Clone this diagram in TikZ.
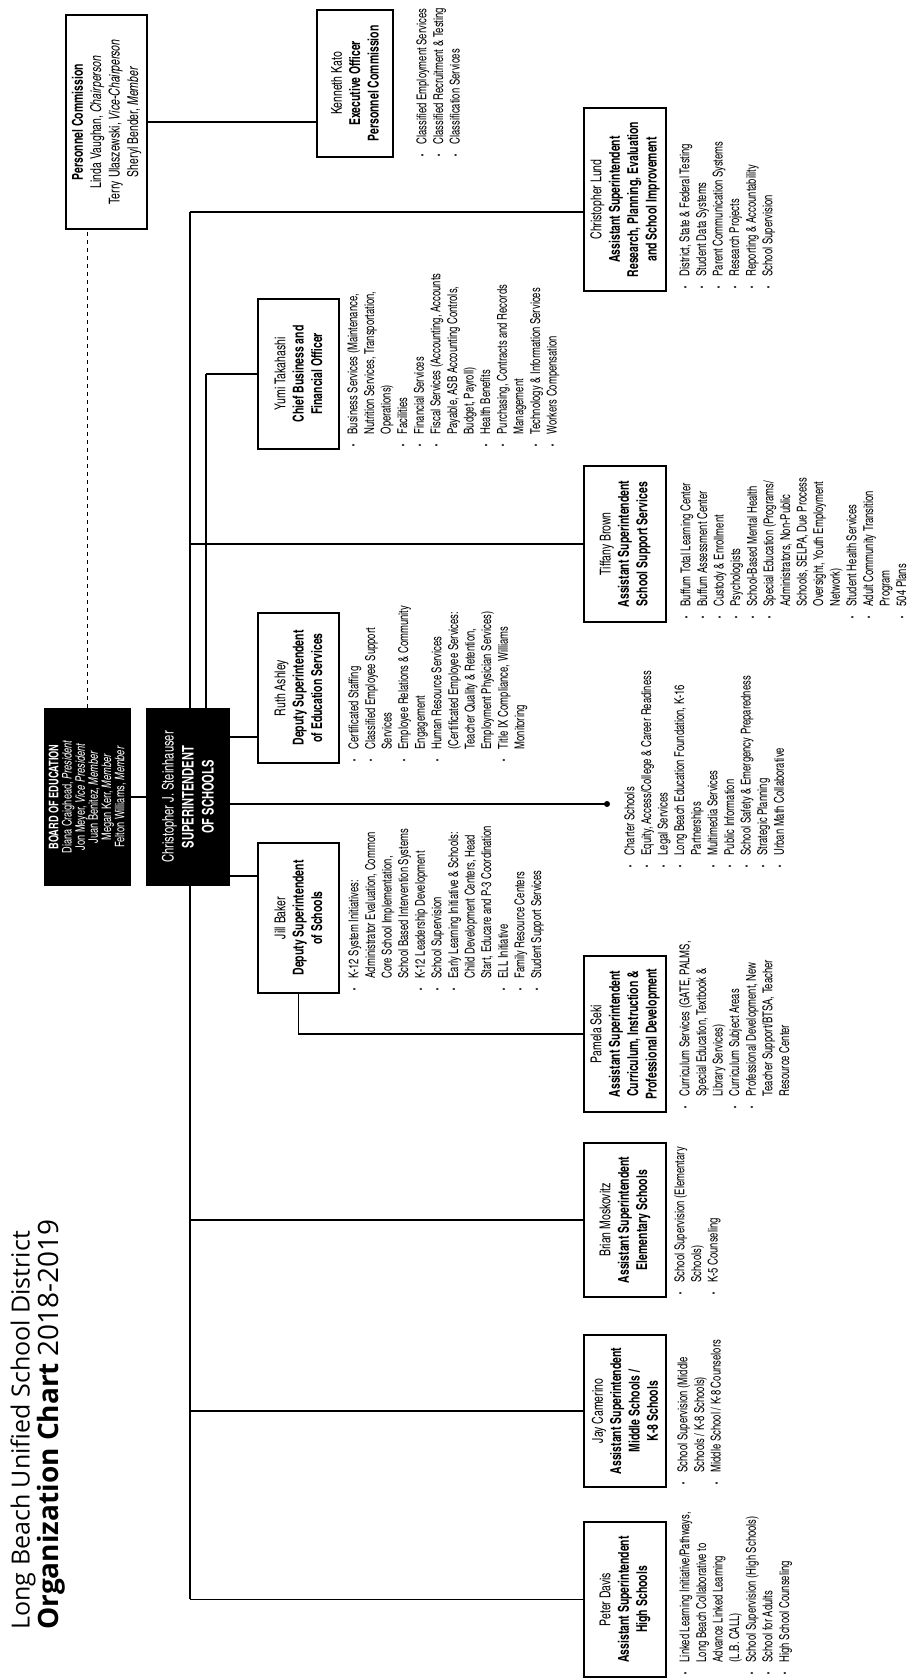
\documentclass[tikz,border=0pt]{standalone}
\usepackage{fontspec}
\setmainfont{texgyreheroscn}[Extension=.otf,UprightFont=*-regular,BoldFont=*-bold,ItalicFont=*-italic,BoldItalicFont=*-bolditalic,FakeStretch=0.85]
\newfontfamily\titlefont{Open Sans}
\usetikzlibrary{positioning}

\newcommand{\itm}{\makebox[0.9em][l]{\raisebox{0.15ex}{\scalebox{0.6}{\textbullet}}}}
\newcommand{\cnt}{\hspace*{0.9em}}

\begin{document}
\begin{tikzpicture}[x=0.5pt,y=0.5pt,rotate=90,transform shape]
        % chart is laid out in landscape and turned a quarter
        \tikzstyle{post} = [draw,line width=1pt,fill=white,align=center,inner sep=0pt,minimum width=78pt,minimum height=41pt,font=\fontsize{7.5}{9.2}\selectfont];
        \tikzstyle{chief} = [post,fill=black,text=white];
        \tikzstyle{duties} = [anchor=north west,align=left,inner sep=0pt,font=\fontsize{6.8}{8.3}\selectfont];
        \tikzstyle{link} = [line width=0.8pt];

        \fill[white] (0,0) rectangle (1679,-906);
        \useasboundingbox (0,0) rectangle (1679,-906);

        \node[anchor=north west,align=left,inner sep=0pt] (title) at (49,-10) {{\titlefont\fontsize{12.5}{13}\selectfont Long Beach Unified School District}\\{\titlefont\fontsize{14}{15}\selectfont\bfseries Organization Chart}\,\,{\titlefont\fontsize{14}{15}\selectfont 2018-2019}};

        % junction points
        \coordinate (busL) at (79.5,-190);
        \coordinate (busR) at (1467,-190);
        \coordinate (lundjoin) at (1467,-584);
        \coordinate (pcjoin) at (1450,-87.5);
        \coordinate (katojoin) at (1557,-317);
        \coordinate (cfojoin) at (1305,-206);
        \coordinate (sekijoin) at (645,-298.5);
        \coordinate (charterdot) at (875,-607);

        \draw[link] (busL) -- (busR);
        \draw[link] (970,-206) -- (cfojoin);

        \node[chief,minimum width=88pt,minimum height=42.5pt,font=\fontsize{6.6}{6.6}\selectfont] (board) at (882,-87.5) {\textbf{BOARD OF EDUCATION}\\Diana Craighead, \textit{President}\\Jon Meyer, \textit{Vice President}\\Juan Benitez, \textit{Member}\\Megan Kerr, \textit{Member}\\Felton Williams, \textit{Member}};
        \node[chief,minimum width=88pt,font=\fontsize{8}{10}\selectfont] (super) at (882,-188) {Christopher J. Steinhauser\\\textbf{SUPERINTENDENT}\\\textbf{OF SCHOOLS}};

        \node[post,minimum width=107pt,minimum height=40.5pt] (commission) at (1557,-106.5) {\textbf{Personnel Commission}\\Linda Vaughan, \textit{Chairperson}\\Terry Ulaszewski, \textit{Vice-Chairperson}\\Sheryl Bender, \textit{Member}};
        \node[post,minimum width=73.5pt,minimum height=38pt] (kato) at (1595.5,-355) {Kenneth Kato\\\textbf{Executive Officer}\\\textbf{Personnel Commission}};

        \node[post,minimum width=75pt,minimum height=40.5pt] (baker) at (761,-298.5) {Jill Baker\\\textbf{Deputy Superintendent}\\\textbf{of Schools}};
        \node[post,minimum width=75pt,minimum height=40.5pt] (ashley) at (991,-298.5) {Ruth Ashley\\\textbf{Deputy Superintendent}\\\textbf{of Education Services}};
        \node[post,minimum width=75pt,minimum height=40.5pt] (takahashi) at (1305,-298.5) {Yumi Takahashi\\\textbf{Chief Business and}\\\textbf{Financial Officer}};

        \node[post,minimum width=77.5pt] (davis) at (79.5,-625) {Peter Davis\\\textbf{Assistant Superintendent}\\\textbf{High Schools}};
        \node[post,minimum width=76pt] (camerino) at (268,-625) {Jay Camerino\\\textbf{Assistant Superintendent}\\\textbf{Middle Schools /}\\\textbf{K-8 Schools}};
        \node[post,minimum width=77pt] (moskovitz) at (459,-625) {Brian Moskovitz\\\textbf{Assistant Superintendent}\\\textbf{Elementary Schools}};
        \node[post] (seki) at (645,-625) {Pamela Seki\\\textbf{Assistant Superintendent}\\\textbf{Curriculum, Instruction \&}\\\textbf{Professional Development}};
        \node[post] (brown) at (1135,-625) {Tiffany Brown\\\textbf{Assistant Superintendent}\\\textbf{School Support Services}};
        \node[post,minimum width=91.5pt] (lund) at (1479.5,-625) {Christopher Lund\\\textbf{Assistant Superintendent}\\\textbf{Research, Planning, Evaluation}\\\textbf{and School Improvement}};

        \draw[link] (board.south) -- (super.north);
        \draw[link,dash pattern=on 2pt off 2pt] (board.east) -- (pcjoin);
        \draw[link] (commission.south) -- (katojoin);
        \draw[link] (cfojoin) -- (takahashi.north);
        \draw[link] (942,-229) -- (942,-258);
        \draw[link] (803,-229) -- (803,-258);
        \draw[link] (baker.west) -- (sekijoin) -- (seki.north);
        \draw[link] (875,-229) -- (charterdot);
        \fill (charterdot) circle (3);
        \draw[link] (busL) -- (davis.north);
        \draw[link] (268,-190) -- (camerino.north);
        \draw[link] (459,-190) -- (moskovitz.north);
        \draw[link] (1135,-190) -- (brown.north);
        \draw[link] (busR) -- (lundjoin);

        \node[duties] (katolist) at (1522,-416) {\itm Classified Employment Services\\\itm Classified Recruitment \& Testing\\\itm Classification Services};
        \node[duties] (lundlist) at (1390,-679) {\itm District, State \& Federal Testing\\\itm Student Data Systems\\\itm Parent Communication Systems\\\itm Research Projects\\\itm Reporting \& Accountability\\\itm School Supervision};
        \node[duties] (takahashilist) at (1232,-347) {\itm Business Services (Maintenance,\\\cnt Nutrition Services, Transportation,\\\cnt Operations)\\\itm Facilities\\\itm Financial Services\\\itm Fiscal Services (Accounting, Accounts\\\cnt Payable, ASB Accounting Controls,\\\cnt Budget, Payroll)\\\itm Health Benefits\\\itm Purchasing, Contracts and Records\\\cnt Management\\\itm Technology \& Information Services\\\itm Workers Compensation};
        \node[duties] (brownlist) at (1060,-680) {\itm Buffum Total Learning Center\\\itm Buffum Assessment Center\\\itm Custody \& Enrollment\\\itm Psychologists\\\itm School-Based Mental Health\\\itm Special Education (Programs/\\\cnt Administrators, Non-Public\\\cnt Schools, SELPA, Due Process\\\cnt Oversight, Youth Employment\\\cnt Network)\\\itm Student Health Services\\\itm Adult Community Transition\\\cnt Program\\\itm 504 Plans};
        \node[duties] (ashleylist) at (917,-348) {\itm Certificated Staffing\\\itm Classified Employee Support\\\cnt Services\\\itm Employee Relations \& Community\\\cnt Engagement\\\itm Human Resource Services\\\cnt (Certificated Employee Services:\\\cnt Teacher Quality \& Retention,\\\cnt Employment Physician Services)\\\itm Title IX Compliance, Williams\\\cnt Monitoring};
        \node[duties] (bakerlist) at (688,-348) {\itm K-12 System Initiatives:\\\cnt Administrator Evaluation, Common\\\cnt Core School Implementation,\\\cnt School Based Intervention Systems\\\itm K-12 Leadership Development\\\itm School Supervision\\\itm Early Learning Initiative \& Schools:\\\cnt Child Development Centers, Head\\\cnt Start, Educare and P-3 Coordination\\\itm ELL Initiative\\\itm Family Resource Centers\\\itm Student Support Services};
        \node[duties] (charterlist) at (811,-624) {\itm Charter Schools\\\itm Equity, Access/College \& Career Readiness\\\itm Legal Services\\\itm Long Beach Education Foundation, K-16\\\cnt Partnerships\\\itm Multimedia Services\\\itm Public Information\\\itm School Safety \& Emergency Preparedness\\\itm Strategic Planning\\\itm Urban Math Collaborative};
        \node[duties] (sekilist) at (570,-679) {\itm Curriculum Services (GATE, PALMS,\\\cnt Special Education, Textbook \&\\\cnt Library Services)\\\itm Curriculum Subject Areas\\\itm Professional Development, New\\\cnt Teacher Support/BTSA, Teacher\\\cnt Resource Center};
        \node[duties] (moskovitzlist) at (384,-674) {\itm School Supervision (Elementary\\\cnt Schools)\\\itm K-5 Counseling};
        \node[duties] (camerinolist) at (194,-677) {\itm School Supervision (Middle\\\cnt Schools / K-8 Schools)\\\itm Middle School / K-8 Counselors};
        \node[duties] (davislist) at (4,-679) {\itm Linked Learning Initiative/Pathways,\\\cnt Long Beach Collaborative to\\\cnt Advance Linked Learning\\\cnt (L.B. CALL)\\\itm School Supervision (High Schools)\\\itm School for Adults\\\itm High School Counseling};
\end{tikzpicture}
\end{document}
